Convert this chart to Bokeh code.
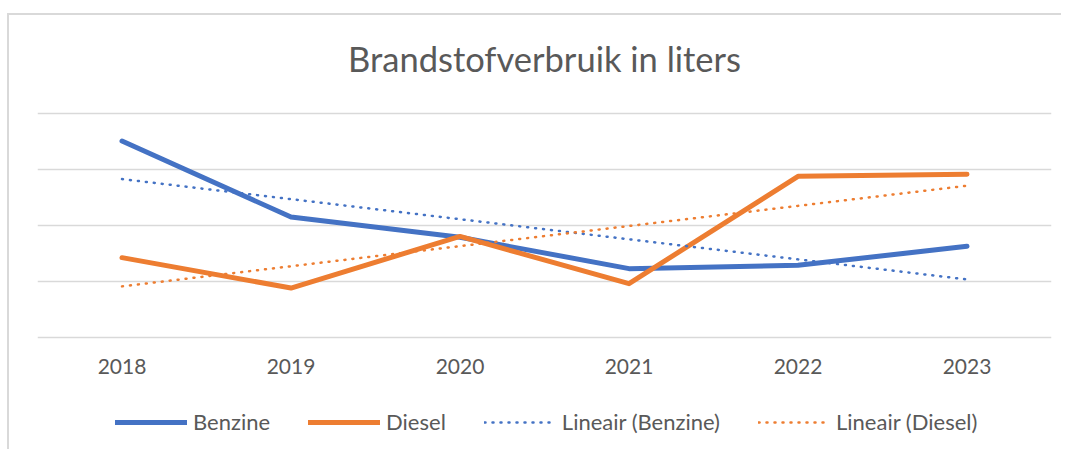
import numpy as np
from bokeh.plotting import figure
from bokeh.models import FactorRange, Range1d, FixedTicker, Legend, LegendItem, Label
from bokeh.embed import file_html
from bokeh.resources import INLINE

years = ["2018", "2019", "2020", "2021", "2022", "2023"]
benzine = [175.5, 107.7, 89.6, 61.6, 64.6, 81.5]
diesel = [71.4, 44.3, 90.4, 48.2, 144.0, 145.8]
grid_values = [0, 50, 100, 150, 200]
title_text = "Brandstofverbruik in liters"

BLUE = "#4472C4"
ORANGE = "#ED7D31"
TXT = "#595959"
FONT = "Lato"

# frame spans the title strip above and the legend strip below the data area
p = figure(frame_width=1014, frame_height=430,
           x_range=FactorRange(factors=years, range_padding=0),
           y_range=Range1d(-96.3, 287.6), output_backend="svg", toolbar_location=None,
           min_border_left=28, min_border_right=10, min_border_top=0, min_border_bottom=4)
p.styles = {"margin-left": "7px", "margin-top": "13px",
            "border-top": "2px solid #D9D9D9", "border-left": "2px solid #D9D9D9"}

p.outline_line_color = None
p.background_fill_color = "white"
p.border_fill_color = "white"

p.xgrid.grid_line_color = None
p.ygrid.ticker = FixedTicker(ticks=grid_values)
p.ygrid.grid_line_color = "#D9D9D9"
p.ygrid.grid_line_width = 1.5
p.yaxis.visible = False

xa = p.xaxis[0]
xa.axis_line_color = None
xa.major_tick_line_color = None
xa.minor_tick_line_color = None
xa.major_tick_out = 0
xa.major_tick_in = 0
xa.major_label_standoff = -87
xa.major_label_text_font = FONT
xa.major_label_text_font_size = "21px"
xa.major_label_text_color = TXT

p.add_layout(Label(x=3, y=249, text=title_text, text_align="center", text_baseline="middle",
                   text_font=FONT, text_font_size="34.5px", text_color=TXT))

x_idx = np.arange(len(years))
b_fit = np.polyval(np.polyfit(x_idx, benzine, 1), x_idx)
d_fit = np.polyval(np.polyfit(x_idx, diesel, 1), x_idx)

r_b = p.line(years, benzine, line_color=BLUE, line_width=5, line_join="round", line_cap="round")
r_d = p.line(years, diesel, line_color=ORANGE, line_width=5, line_join="round", line_cap="round")
r_bt = p.line(years, list(b_fit), line_color=BLUE, line_width=2.5, line_dash="1 7", line_cap="round")
r_dt = p.line(years, list(d_fit), line_color=ORANGE, line_width=2.5, line_dash="1 7", line_cap="round")

legend = Legend(items=[
    LegendItem(label="Benzine", renderers=[r_b]),
    LegendItem(label="Diesel", renderers=[r_d]),
    LegendItem(label="Lineair (Benzine)", renderers=[r_bt]),
    LegendItem(label="Lineair (Diesel)", renderers=[r_dt]),
], orientation="horizontal", location=(78, 10))
legend.label_text_font = FONT
legend.label_text_font_size = "22px"
legend.label_text_color = TXT
legend.glyph_width = 72
legend.glyph_height = 20
legend.label_height = 20
legend.label_standoff = 6
legend.spacing = 38
legend.padding = 0
legend.margin = 0
legend.border_line_color = None
legend.background_fill_alpha = 0
p.add_layout(legend)

open("out.html", "w").write(file_html(p, INLINE))
